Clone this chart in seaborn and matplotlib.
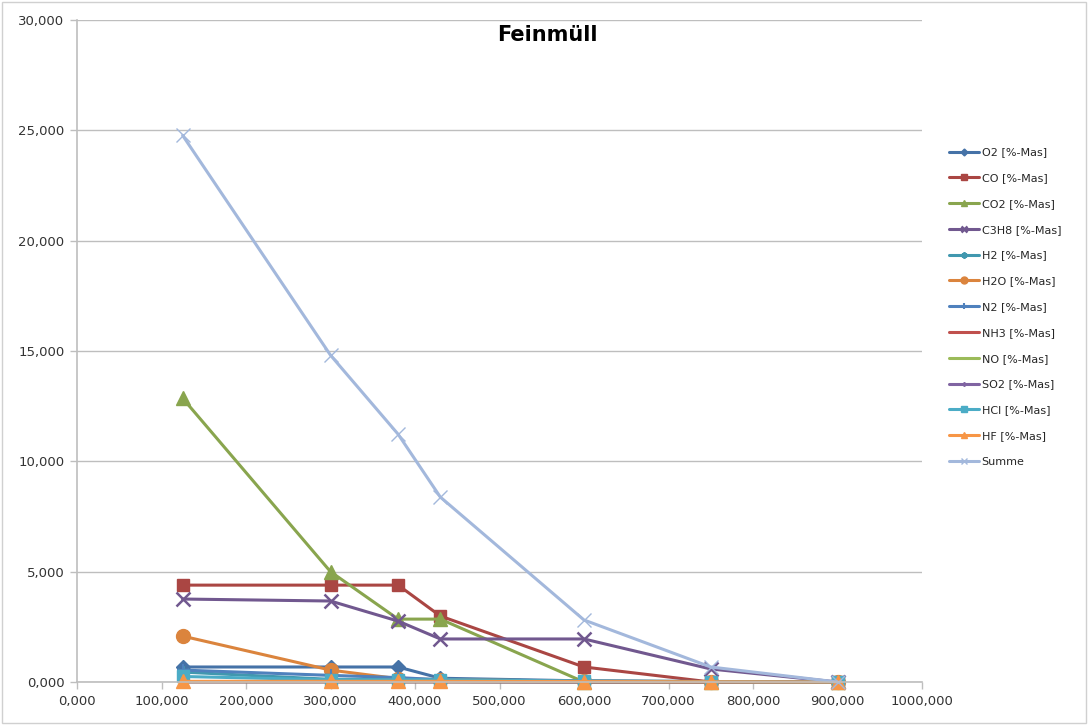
import matplotlib
matplotlib.use("Agg")
import matplotlib.pyplot as plt
import seaborn as sns
import numpy as np
from matplotlib.ticker import FuncFormatter, MultipleLocator

sns.set_theme(style="white")
plt.rcParams["font.family"] = ["DejaVu Sans"]

# Temperatur-Stützstellen
x_vals = [125, 300, 380, 430, 600, 750, 900]

# Gaszusammensetzung in %-Mas
o2   = [0.68, 0.68, 0.68, 0.17, 0.05, 0.00, 0.00]
co   = [4.39, 4.39, 4.39, 2.99, 0.68, 0.00, 0.00]
co2  = [12.86, 5.00, 2.85, 2.85, 0.00, 0.00, 0.00]
c3h8 = [3.76, 3.67, 2.76, 1.95, 1.95, 0.59, 0.00]
h2   = [0.45, 0.12, 0.12, 0.12, 0.04, 0.02, 0.00]
h2o  = [2.08, 0.54, 0.15, 0.10, 0.04, 0.02, 0.00]
n2   = [0.54, 0.30, 0.20, 0.10, 0.04, 0.02, 0.00]
nh3  = [0.01, 0.01, 0.01, 0.01, 0.00, 0.00, 0.00]
no   = [0.01, 0.01, 0.01, 0.01, 0.00, 0.00, 0.00]
so2  = [0.01, 0.01, 0.01, 0.01, 0.00, 0.00, 0.00]
hcl  = [0.25, 0.10, 0.10, 0.10, 0.04, 0.02, 0.00]
hf   = [0.03, 0.03, 0.03, 0.03, 0.02, 0.01, 0.00]
summe = [24.77, 14.81, 11.23, 8.38, 2.81, 0.68, 0.00]

labels = ["O2 [%-Mas]", "CO [%-Mas]", "CO2 [%-Mas]", "C3H8 [%-Mas]", "H2 [%-Mas]",
          "H2O [%-Mas]", "N2 [%-Mas]", "NH3 [%-Mas]", "NO [%-Mas]", "SO2 [%-Mas]",
          "HCl [%-Mas]", "HF [%-Mas]", "Summe"]
series = [o2, co, co2, c3h8, h2, h2o, n2, nh3, no, so2, hcl, hf, summe]

styles = [
    dict(color="#4572A7", marker="D", ms=7),
    dict(color="#AA4643", marker="s", ms=9),
    dict(color="#89A54E", marker="^", ms=10),
    dict(color="#71588F", marker="x", ms=10, mew=1.8),
    dict(color="#4198AF", marker=(6, 2, 0), ms=9, mew=1.5),
    dict(color="#DB843D", marker="o", ms=10),
    dict(color="#4F81BD", marker="+", ms=9, mew=1.5),
    dict(color="#C0504D", marker="None", ms=0),
    dict(color="#9BBB59", marker="None", ms=0),
    dict(color="#8064A2", marker="D", ms=4),
    dict(color="#4BACC6", marker="s", ms=9),
    dict(color="#F79646", marker="^", ms=10),
    dict(color="#A3B8DC", marker="x", ms=10, mew=1.0),
]

fig = plt.figure(figsize=(10.88, 7.25), dpi=100)
ax = fig.add_axes([77 / 1088, 1 - 682 / 725, (922 - 77) / 1088, (682 - 20) / 725])

for lab, ys, st in zip(labels, series, styles):
    sns.lineplot(x=x_vals, y=ys, ax=ax, color=st["color"], marker=st["marker"],
                 markersize=st["ms"], markeredgewidth=st.get("mew", 1.0),
                 markeredgecolor=st["color"], linewidth=2.2, label=lab,
                 legend=False, clip_on=False)

ax.set_xlim(0, 1000)
ax.set_ylim(0, 30)
ax.xaxis.set_major_locator(MultipleLocator(100))
ax.yaxis.set_major_locator(MultipleLocator(5))
fmt = FuncFormatter(lambda v, p: f"{v:.3f}".replace(".", ","))
ax.xaxis.set_major_formatter(fmt)
ax.yaxis.set_major_formatter(fmt)

ax.grid(axis="y", color="#BEBEBE", linewidth=1.0)
ax.set_axisbelow(True)
for side in ["top", "right"]:
    ax.spines[side].set_visible(False)
for side in ["left", "bottom"]:
    ax.spines[side].set_color("#BEBEBE")
    ax.spines[side].set_linewidth(1.2)
ax.tick_params(axis="both", which="major", direction="out", length=5, width=1,
               color="#BEBEBE", labelsize=9.5, labelcolor="#333333", pad=4,
               left=True, bottom=True)

fig.text(0.503, 0.952, "Feinmüll", ha="center", va="center", fontsize=15,
         fontweight="bold", color="black")

handles, labs = ax.get_legend_handles_labels()
fig.legend(handles, labs, loc="upper left", bbox_to_anchor=(945 / 1088, 1 - 143 / 725),
           frameon=False, fontsize=8, handlelength=2.7, labelspacing=1.42,
           handletextpad=0.2, markerscale=0.5, borderaxespad=0)

border = plt.Rectangle((0.002, 0.003), 0.996, 0.994, transform=fig.transFigure,
                       fill=False, edgecolor="#D0D0D0", linewidth=1.0)
fig.add_artist(border)

fig.savefig("out.png", dpi=100)
